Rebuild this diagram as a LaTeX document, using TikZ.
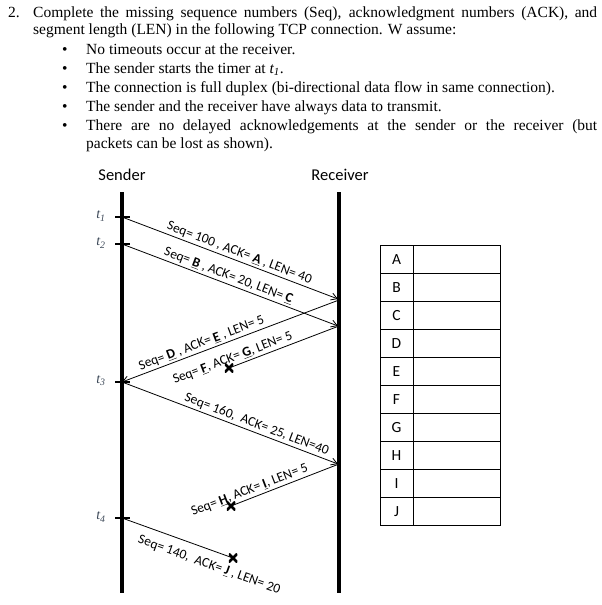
\documentclass[tikz,border=0pt]{standalone}
\usepackage{fontspec}
\setmainfont{Liberation Serif}
\newfontfamily\calfont{Carlito}
\usetikzlibrary{arrows.meta}
\definecolor{tcol}{HTML}{3A4656}
\newcommand\blk[1]{\underline{\textbf{#1}}}
\begin{document}
\begin{tikzpicture}[x=1pt,y=-1pt,
  body/.style={anchor=base west, inner sep=0pt, font=\fontsize{15.5}{18}\selectfont},
  lbl/.style={font=\calfont\fontsize{13.5}{14}\selectfont, sloped, inner sep=2pt},
  msg/.style={line width=0.8pt, -{Straight Barb[length=6pt,width=7pt]}},
  lost/.style={line width=0.8pt},
  life/.style={line width=3.2pt},
  tick/.style={line width=2.2pt},
  tl/.style={font=\fontsize{14}{14}\selectfont\itshape, text=tcol, inner sep=0pt},
  xmark/.style={inner sep=0pt, minimum size=8.5pt,
    path picture={\draw[line width=2.6pt] (path picture bounding box.north west) -- (path picture bounding box.south east)
      (path picture bounding box.north east) -- (path picture bounding box.south west);}},
  cell/.style={draw, line width=1pt, minimum height=28pt, inner sep=0pt, font=\calfont\fontsize{15.5}{15.5}\selectfont}
]
\useasboundingbox (0,0) rectangle (602,605);

% ---- question text ----
\node[body] (n2) at (8,17) {2.};
\node[body] (l1) at (33,17) {\makebox[564pt][s]{Complete the missing sequence numbers (Seq), acknowledgment numbers (ACK), and}};
\node[body] (l2) at (33,34) {segment length (LEN) in the following TCP connection. W assume:};
\foreach \yy/\nm in {54/b1,73/b2,92/b3,111/b4,130/b5}
  \node[body] (\nm) at (62,\yy) {\textbullet};
\node[body] (t1) at (86,54) {No timeouts occur at the receiver.};
\node[body] (t2) at (86,73) {The sender starts the timer at \textit{t\textsubscript{1}}.};
\node[body] (t3) at (86,92) {The connection is full duplex (bi-directional data flow in same connection).};
\node[body] (t4) at (86,111) {The sender and the receiver have always data to transmit.};
\node[body] (t5) at (86,130) {\makebox[511pt][s]{There are no delayed acknowledgements at the sender or the receiver (but}};
\node[body] (t6) at (86,148) {packets can be lost as shown).};

% ---- lifelines ----
\node[font=\calfont\fontsize{16.5}{17}\selectfont, inner sep=0pt] (snd) at (122,175) {Sender};
\node[font=\calfont\fontsize{16.5}{17}\selectfont, inner sep=0pt] (rcv) at (340,175) {Receiver};
\coordinate (stop) at (122,192);
\coordinate (sbot) at (122,593);
\coordinate (rtop) at (339,192);
\coordinate (rbot) at (339,593);
\draw[life] (stop) -- (sbot);
\draw[life] (rtop) -- (rbot);

% time ticks
\foreach \nm/\yy in {1/217,2/244,3/382,4/518}{
  \coordinate (s\nm) at (122,\yy);
  \coordinate (tka\nm) at (115,\yy);
  \coordinate (tkb\nm) at (130,\yy);
  \draw[tick] (tka\nm) -- (tkb\nm);
  \node[tl] (tl\nm) at (101,\yy-1) {t\textsubscript{\nm}};
}

% receiver points
\coordinate (r1) at (338,299);
\coordinate (r2) at (338,326);
\coordinate (r1o) at (339,300);
\coordinate (r2o) at (339,326);
\coordinate (r3) at (339,464);
\coordinate (r3e) at (338,464);

% loss marks
\node[xmark] (x1) at (229,368) {};
\node[xmark] (x2) at (231,506) {};
\node[xmark] (x3) at (233,558) {};

% ---- messages ----
\draw[msg] (s1) -- node[lbl, above, pos=0.53] {Seq= 100 , ACK= \blk{A} , LEN= 40} (r1);
\draw[msg] (s2) -- node[lbl, above, pos=0.48] {Seq= \blk{B} , ACK= 20, LEN= \blk{C}} (r2);
\draw[msg] (r1o) -- node[lbl, above, pos=0.62] {Seq= \blk{D} , ACK= \blk{E} , LEN= 5} (s3);
\draw[lost] (r2o) -- node[lbl, above, pos=0.94] {Seq= \blk{F}, ACK= \blk{G}, LEN= 5} (x1.center);
\draw[msg] (s3) -- node[lbl, above, pos=0.61] {Seq= 160, \ ACK= 25, LEN=40} (r3e);
\draw[lost] (r3) -- node[lbl, above, pos=0.8] {Seq= \blk{H}, ACK= \blk{I}, LEN= 5} (x2.center);
\draw[lost] (s4) -- node[lbl, below=7pt, pos=0.83] {Seq= 140, \ ACK= \blk{J} , LEN= 20} (x3.center);

% ---- answer table ----
\foreach \L [count=\i from 0] in {A,B,C,D,E,F,G,H,I,J}{
  \node[cell, minimum width=33pt, anchor=north west] (k\L) at (379.5,245+28*\i) {\L};
  \node[cell, minimum width=87pt, anchor=north west] (v\L) at (412.5,245+28*\i) {};
}
\end{tikzpicture}
\end{document}
